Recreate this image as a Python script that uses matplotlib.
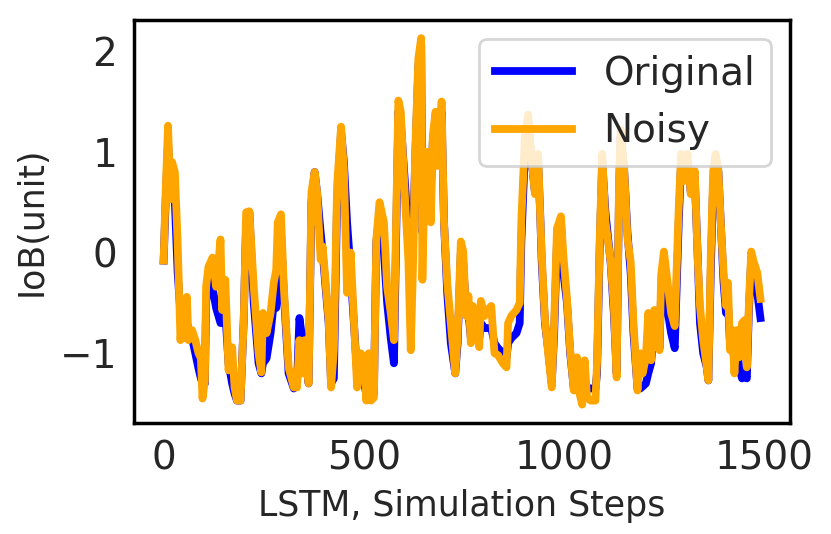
import numpy as np
import matplotlib
matplotlib.use("Agg")
import matplotlib.pyplot as plt

# values (step, IoB)
steps = [0, 5, 11, 17, 21, 28, 35, 42, 46, 52, 58, 62, 71, 79, 87, 93, 97, 103, 106, 112,
         122, 131, 142, 146, 154, 162, 171, 177, 183, 192, 200, 206, 214, 225, 237, 244, 248, 257, 267, 275,
         281, 285, 293, 300, 312, 325, 333, 339, 346, 352, 362, 369, 377, 383, 392, 397, 412, 418, 425, 433,
         443, 450, 458, 467, 475, 483, 492, 500, 506, 512, 518, 525, 531, 539, 550, 558, 567, 575, 586, 592,
         604, 611, 617, 623, 628, 636, 643, 646, 650, 658, 667, 672, 679, 683, 689, 694, 700, 708, 717, 728,
         734, 742, 748, 755, 761, 767, 772, 780, 788, 792, 801, 809, 818, 826, 835, 847, 856, 860, 868, 881,
         889, 893, 902, 910, 919, 927, 935, 940, 944, 952, 961, 969, 975, 982, 992, 998, 1007, 1015, 1024, 1032,
         1039, 1045, 1051, 1057, 1066, 1078, 1082, 1089, 1095, 1103, 1116, 1124, 1131, 1137, 1141, 1150, 1158, 1166, 1173, 1183,
         1190, 1196, 1204, 1210, 1217, 1225, 1232, 1238, 1242, 1249, 1259, 1267, 1276, 1286, 1292, 1299, 1308, 1316, 1326, 1333,
         1339, 1347, 1356, 1360, 1366, 1372, 1378, 1385, 1392, 1398, 1404, 1409, 1414, 1420, 1425, 1431, 1437, 1444, 1451, 1456,
         1461, 1467, 1473, 1482, 1490]

noisy = [-0.08, 0.6, 1.26, 0.53, 0.9, 0.8, 0.1, -0.87, -0.67, -0.85, -0.44, -0.87, -0.77, -0.87, -1.0, -1.05, -1.45, -1.27, -0.34, -0.14,
         -0.05, -0.34, 0.13, -0.57, -0.27, -1.17, -0.94, -1.34, -1.47, -1.47, -0.67, 0.4, 0.41, -0.34, -1.0, -1.19, -0.6, -0.8, -0.6, -0.3,
         -0.17, 0.3, 0.38, -0.34, -1.14, -1.34, -1.34, -0.87, -1.2, -0.87, -1.3, 0.6, 0.8, 0.6, -0.07, 0.06, -0.67, -1.34, -0.97, 0.66,
         1.25, 0.83, -0.4, 0.0, -0.67, -1.34, -1.0, -1.04, -1.47, -1.0, -1.47, -1.44, 0.13, 0.5, 0.3, -0.34, -0.6, -0.87, 1.51, 1.4,
         0.43, -0.07, -0.97, -0.07, 1.0, 1.93, 2.13, -0.27, 0.46, 1.0, 0.3, 1.16, 1.4, 0.86, 1.0, 1.5, 0.3, -0.3, -0.7, -1.2,
         -0.83, 0.11, 0.01, -0.63, -0.43, -0.9, -0.53, -0.7, -0.94, -0.48, -0.63, -0.57, -0.53, -1.0, -1.02, -1.1, -1.14, -0.7, -0.63, -0.57,
         -0.5, 0.31, 1.15, 1.37, 0.92, 0.58, 0.98, 0.38, -0.03, -0.67, -1.04, -1.34, -0.7, 0.24, 0.36, -0.03, -0.46, -0.97, -1.37, -1.04,
         -1.41, -1.51, -1.07, -1.44, -1.47, -1.47, -1.1, 0.18, 0.98, 0.31, -0.09, -0.53, -1.24, 0.71, 1.22, 0.81, 0.14, -0.09, -0.7, -1.37,
         -1.0, -1.2, -1.04, -0.6, -1.07, -0.57, -0.8, -0.97, -0.23, 0.01, -0.33, -0.6, -0.73, 0.44, 0.98, 0.71, 0.98, 0.58, 0.81, -0.03,
         -0.53, -0.87, -1.14, -1.27, -0.03, 0.81, 0.98, 0.81, 0.21, -0.2, -0.53, -0.3, -0.97, -0.77, -1.2, -0.77, -1.04, -0.7, -0.67, -1.14,
         -0.53, 0.01, -0.09, -0.2, -0.46]

original = [-0.08, 0.5, 1.1, 0.6, 0.8, 0.5, -0.2, -0.6, -0.7, -0.75, -0.7, -0.75, -0.85, -1.0, -1.15, -1.25, -1.3, -1.3, -0.5, -0.2,
            -0.35, -0.55, -0.7, -0.7, -0.6, -1.1, -1.3, -1.4, -1.47, -1.47, -0.67, 0.3, 0.4, -0.5, -1.1, -1.2, -1.1, -1.05, -0.8, -0.5,
            -0.55, -0.4, 0.2, -0.4, -1.2, -1.35, -1.3, -0.65, -0.85, -1.0, -1.3, 0.5, 0.8, 0.6, 0.2, 0.0, -0.7, -1.3, -1.25, 0.5,
            1.2, 0.9, 0.3, -0.2, -0.7, -1.2, -1.25, -1.3, -1.4, -1.2, -1.4, -1.4, 0.1, 0.4, 0.0, -0.5, -0.85, -1.1, 1.4, 1.3,
            0.6, 0.1, -0.4, 0.2, 0.9, 1.85, 2.05, 0.2, 0.4, 0.9, 0.6, 1.1, 1.35, 0.9, 1.0, 1.4, 0.3, -0.4, -0.9, -1.2,
            -0.9, 0.0, -0.1, -0.6, -0.6, -0.85, -0.7, -0.75, -0.85, -0.7, -0.75, -0.75, -0.75, -0.9, -0.95, -1.0, -1.05, -0.9, -0.85, -0.8,
            -0.7, 0.1, 1.0, 1.3, 0.9, 0.6, 0.9, 0.4, -0.1, -0.7, -1.0, -1.3, -0.8, 0.1, 0.3, -0.2, -0.5, -1.0, -1.35, -1.3,
            -1.4, -1.45, -1.35, -1.34, -1.35, -1.35, -1.2, 0.1, 0.9, 0.4, -0.1, -0.6, -1.2, 0.6, 1.15, 0.8, 0.2, -0.2, -0.8, -1.35,
            -1.35, -1.33, -1.3, -1.2, -1.1, -0.7, -0.85, -0.95, -0.4, -0.1, -0.6, -0.8, -0.95, 0.3, 0.9, 0.75, 0.9, 0.6, 0.75, 0.0,
            -0.7, -1.0, -1.14, -1.27, -0.2, 0.7, 0.95, 0.8, 0.2, -0.3, -0.6, -0.5, -0.9, -0.85, -1.1, -0.9, -1.15, -1.25, -1.2, -1.25,
            -0.6, -0.05, -0.2, -0.4, -0.65]

text_col = "#262626"

fig, ax = plt.subplots(figsize=(4.155, 2.67), dpi=200)
fig.subplots_adjust(left=0.161, right=0.951, bottom=0.208, top=0.963)

ax.plot(steps, original, color="blue", lw=2.8, label="Original")
ax.plot(steps, noisy, color="orange", lw=2.8, label="Noisy")

ax.set_xticks([0, 500, 1000, 1500])
ax.set_yticks([-1, 0, 1, 2])
ax.tick_params(length=0, pad=6, labelsize=14, labelcolor=text_col)
for sp in ax.spines.values():
    sp.set_color("black")
    sp.set_linewidth(1.25)

ax.set_xlabel("LSTM, Simulation Steps", fontsize=12.5, color=text_col)
ax.set_ylabel("IoB(unit)", fontsize=12.5, color=text_col)

leg = ax.legend(loc="upper right", fontsize=14, framealpha=0.8, edgecolor="#cccccc")
for t in leg.get_texts():
    t.set_color(text_col)

fig.savefig("out.png", dpi=200)
